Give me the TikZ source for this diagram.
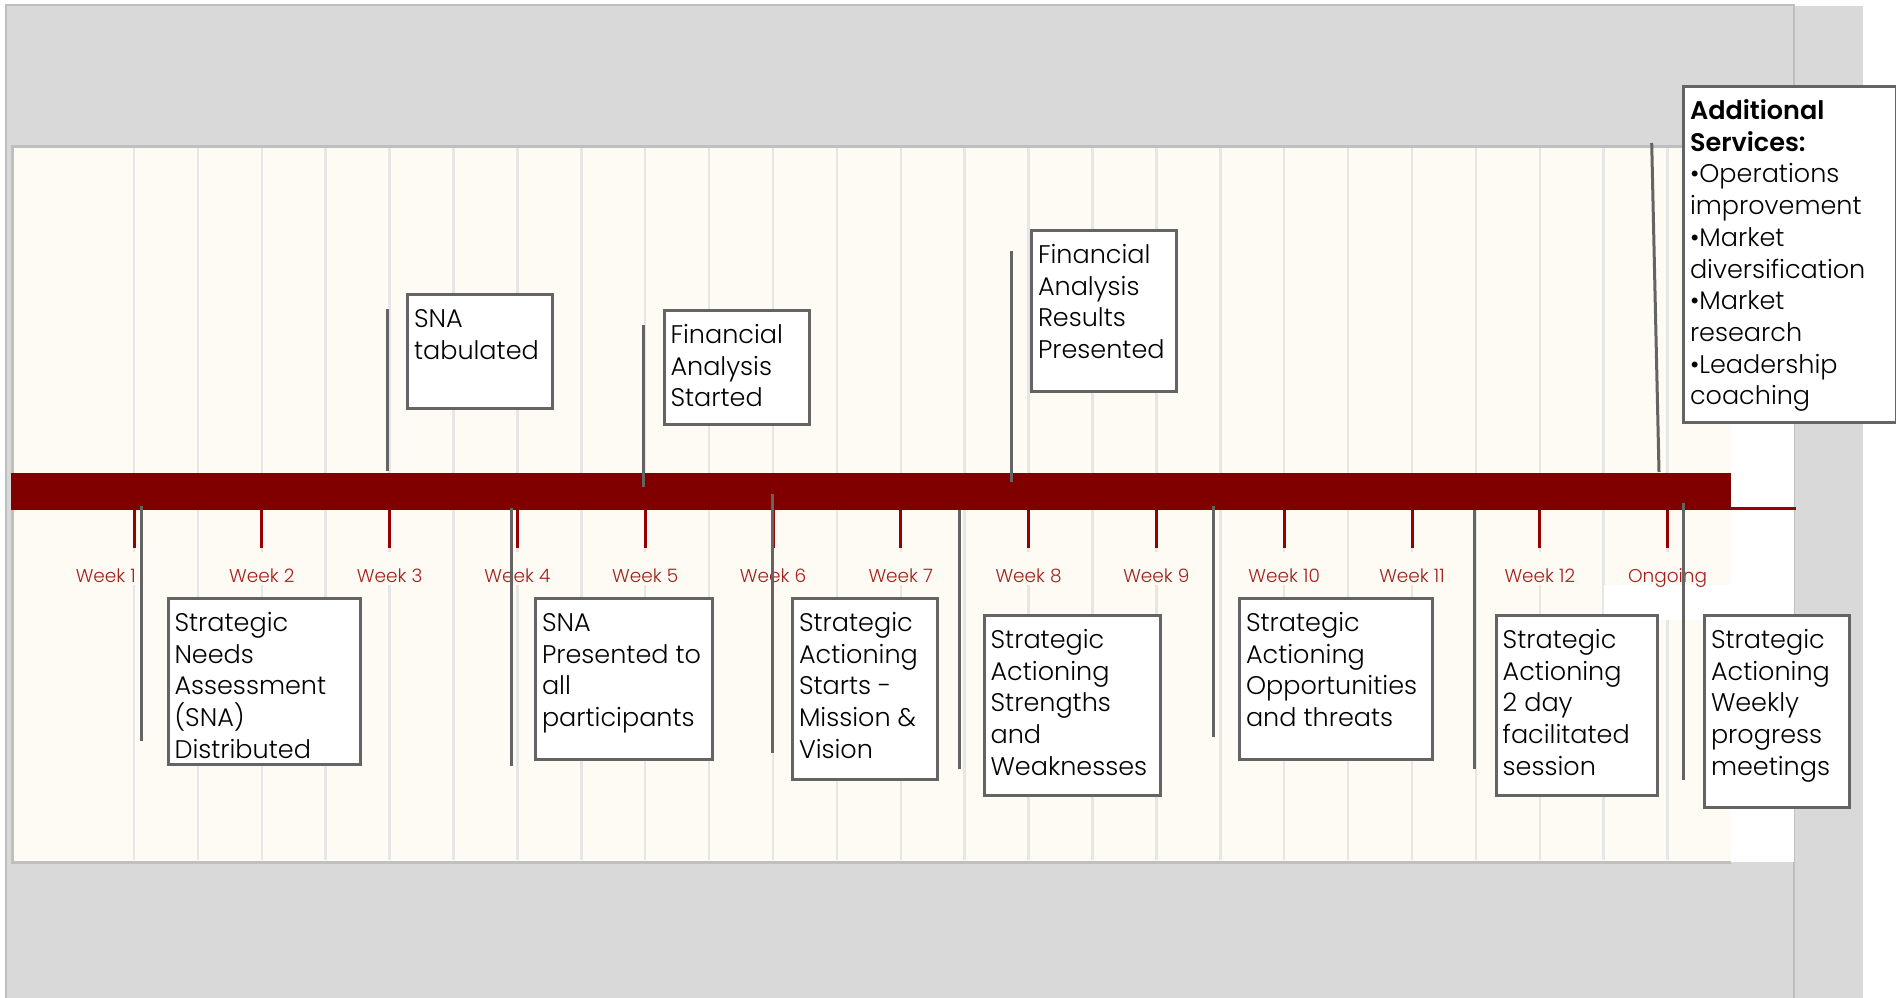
\documentclass[tikz,border=0pt]{standalone}
\usepackage{fontspec}
\setmainfont{Poppins}[UprightFont=* Light, BoldFont=* SemiBold]

\definecolor{bggray}{RGB}{217,217,217}
\definecolor{bgline}{RGB}{191,191,191}
\definecolor{cream}{RGB}{253,251,243}
\definecolor{gridgray}{RGB}{230,230,230}
\definecolor{barred}{RGB}{128,0,0}
\definecolor{tickred}{RGB}{150,0,0}
\definecolor{weekred}{RGB}{165,30,30}
\definecolor{stemgray}{RGB}{100,100,100}

\newcommand{\evfont}{\fontsize{25.5}{31.7}\selectfont}
\newcommand{\wkfont}{\fontsize{18.5}{20}\selectfont}
% text block of an event box: width, height, lines
\newcommand{\evtext}[3]{\parbox[t][#2pt][t]{#1pt}{\raggedright\rule{0pt}{33pt}#3}}

\begin{document}
\begin{tikzpicture}[x=1pt, y=-1pt,
    evbox/.style={draw=stemgray, line width=3pt, fill=white,
        inner xsep=6.5pt, inner ysep=0pt, anchor=north west, font=\evfont},
    stem/.style={draw=stemgray, line width=3pt},
    wk/.style={text=weekred, fill=cream, inner xsep=1pt, inner ysep=0pt,
        text height=30pt, text depth=3pt, anchor=base, font=\wkfont},
    wktick/.style={draw=tickred, line width=3pt}]

\useasboundingbox (0,0) rectangle (1896,998);

% Background & plot area
\fill[bggray] (6,6) rectangle (1863,998);
\draw[bgline, line width=2pt] (6,998) -- (6,5) -- (1794,5) -- (1794,998);
\fill[white] (1731,146) rectangle (1794,862);
\fill[cream] (12,146) rectangle (1731,862);
\foreach \k in {0,...,24}
    \draw[gridgray, line width=2.5pt] ({134+63.9*\k},148) -- ({134+63.9*\k},860);
\draw[bgline, line width=3pt] (1731,146) -- (12,146) -- (12,862) -- (1731,862);
\fill[white] (1604,585) rectangle (1731,620);

% Timeline
\node[  fill=barred,
        minimum width=1720pt,
        minimum height=37pt,
        inner sep=0pt,
        anchor=north west
    ] (bar) at (11,473) {};
\draw[tickred, line width=3pt] (1731,508.5) -- (1796,508.5);
\foreach \n in {1,...,13}
    \draw[wktick] ({134+127.8*(\n-1)},510) -- ({134+127.8*(\n-1)},548);

% Week labels
\node[wk, anchor=base east] (week1) at (137,582) {Week 1};
\foreach \n in {2,...,12}
    \node[wk] (week\n) at ({134+127.8*(\n-1)},582) {Week \n};
\node[wk] (week13) at (1667.6,582) {Ongoing};

% Stems
\foreach \s/\x/\ya/\yb in {a/141.5/506/741, b/387/309/471, c/511/508/766,
        d/643/325/487, e/772/494/753, f/959/510/769, g/1011.6/251/482,
        h/1213/506/737, i/1474/510/769, j/1683/503/780} {
    \coordinate (\s-top) at (\x,\ya);
    \coordinate (\s-bot) at (\x,\yb);
    \draw[stem] (\s-top) -- (\s-bot);
}
\coordinate (k-top) at (1651.7,143);
\coordinate (k-bot) at (1659,472);
\draw[stem] (k-top) -- (k-bot);

% Events above the line
\node[evbox] (snatab) at (406,293)
    {\evtext{132}{114}{SNA\\tabulated}};
\node[evbox] (fastart) at (662.5,309)
    {\evtext{132}{114}{Financial\\Analysis\\Started}};
\node[evbox] (faresult) at (1030,229)
    {\evtext{132}{161}{Financial\\Analysis\\Results\\Presented}};
\node[evbox] (addserv) at (1682,85)
    {\evtext{200}{336}{\textbf{Additional}\\\textbf{Services:}\\•Operations\\improvement\\•Market\\diversification\\•Market\\research\\•Leadership\\coaching}};

% Events below the line
\node[evbox] (snadist) at (166.5,597)
    {\evtext{179.5}{166}{Strategic\\Needs\\Assessment\\(SNA)\\Distributed}};
\node[evbox] (snapres) at (534,597)
    {\evtext{164}{161}{SNA\\Presented~to\\all\\participants}};
\node[evbox] (sastart) at (791,597)
    {\evtext{132}{181}{Strategic\\Actioning\\Starts~-\\Mission~\&\\Vision}};
\node[evbox] (sastrength) at (982.6,614)
    {\evtext{163.4}{180}{Strategic\\Actioning\\Strengths\\and\\Weaknesses}};
\node[evbox] (saopport) at (1238,597)
    {\evtext{180}{161}{Strategic\\Actioning\\Opportunities\\and~threats}};
\node[evbox] (saday) at (1494.7,614)
    {\evtext{148}{180}{Strategic\\Actioning\\2~day\\facilitated\\session}};
\node[evbox] (saweekly) at (1703,614)
    {\evtext{131.5}{192}{Strategic\\Actioning\\Weekly\\progress\\meetings}};

\end{tikzpicture}
\end{document}
